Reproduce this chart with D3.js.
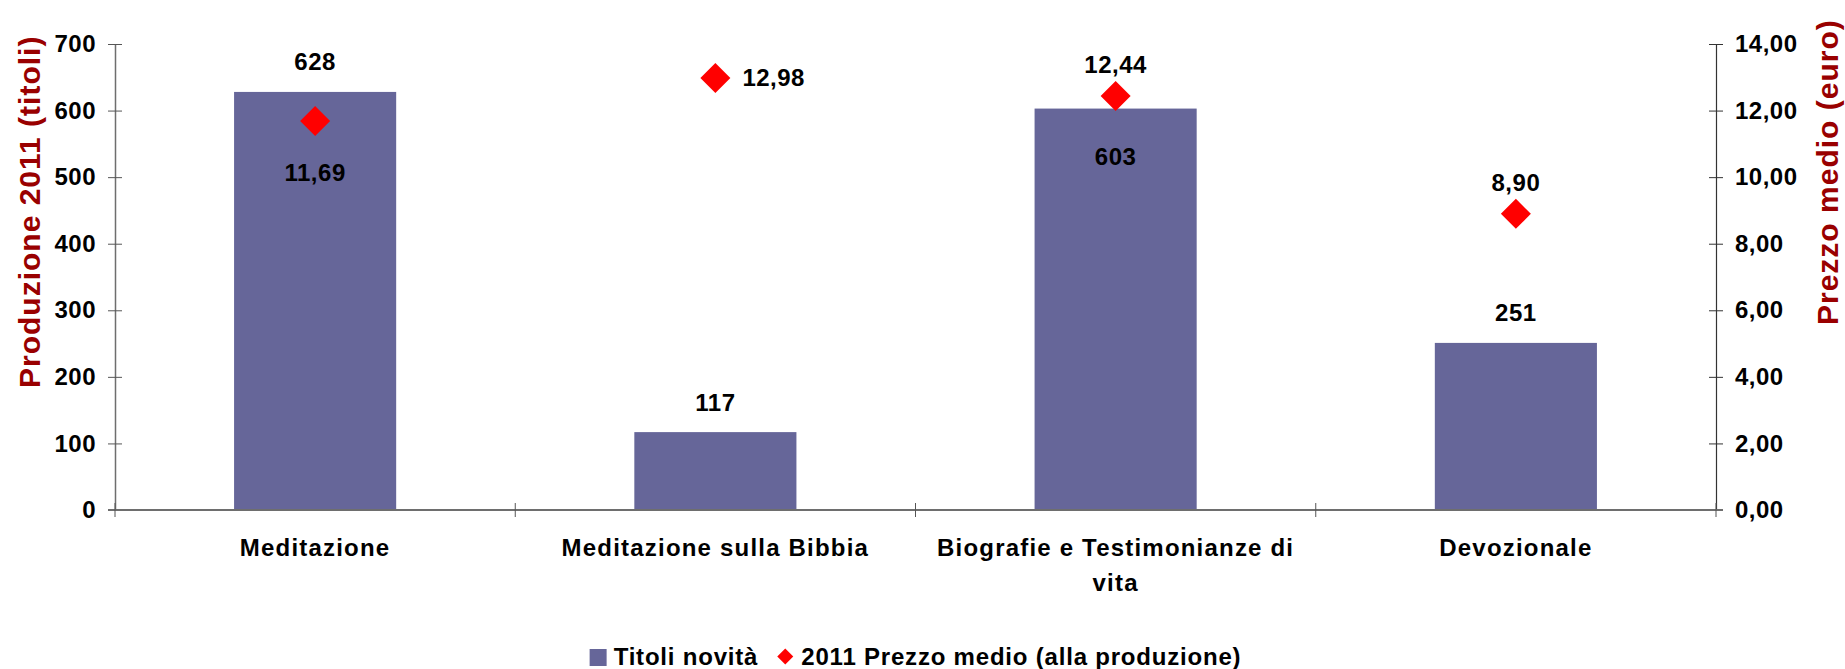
<!DOCTYPE html>
<html>
<head>
<meta charset="utf-8">
<script src="https://cdn.jsdelivr.net/npm/d3@7"></script>
<style>
body { margin: 0; background: #fff; }
svg text { font-family: "Liberation Sans", Arial, Helvetica, sans-serif; font-weight: bold; fill: #000; }
</style>
</head>
<body>
<svg id="chart" width="1845" height="669"></svg>
<script>
// Chart data
var categories = ["Meditazione", "Meditazione sulla Bibbia", "Biografie e Testimonianze di vita", "Devozionale"];
var titoli = [628, 117, 603, 251];
var prezzi = [11.69, 12.98, 12.44, 8.90];
var leftTicks = [0, 100, 200, 300, 400, 500, 600, 700];
var rightTicks = [0, 2, 4, 6, 8, 10, 12, 14];
var seriesNames = ["Titoli novità", "2011 Prezzo medio (alla produzione)"];
var axisTitles = ["Produzione 2011 (titoli)", "Prezzo medio (euro)"];
// where each data label sits relative to its mark
var titoliLabelPos = ["above", "above", "inside", "above"];
var prezziLabelPos = ["below", "right", "above", "above"];

var barColor = "#666699",
    pointColor = "#ff0000",
    titleColor = "#990000";

// italian number format
var it = d3.formatLocale({ decimal: ",", thousands: ".", grouping: [3], currency: ["€", ""] });
var fmt2 = it.format(".2f");

var svg = d3.select("#chart");

var x = d3.scaleBand()
    .domain(categories)
    .range([115, 1716])
    .padding(0);

var yL = d3.scaleLinear().domain([0, 700]).range([510, 44]);
var yR = d3.scaleLinear().domain([0, 14]).range([510, 44]);

var barW = x.bandwidth() * 0.405;

// bars
svg.selectAll(".bar")
    .data(titoli)
    .enter().append("rect")
    .attr("class", "bar")
    .attr("x", (d, i) => x(categories[i]) + x.bandwidth() / 2 - barW / 2)
    .attr("y", d => yL(d))
    .attr("width", barW)
    .attr("height", d => yL(0) - yL(d))
    .style("fill", barColor);

// left axis
var gL = svg.append("g")
    .attr("transform", "translate(115,0)")
    .call(d3.axisLeft(yL).tickValues(leftTicks).tickSize(0).tickPadding(19).tickFormat(d3.format("d")));
gL.select(".domain").attr("stroke", "#6e6e6e").attr("stroke-width", 1.5);
gL.selectAll(".tick line").attr("x1", -7).attr("x2", 7).attr("stroke", "#555");
gL.selectAll(".tick text").style("font-size", "24px").style("letter-spacing", "0.5px");

// right axis
var gR = svg.append("g")
    .attr("transform", "translate(1716,0)")
    .call(d3.axisRight(yR).tickValues(rightTicks).tickSize(0).tickPadding(19).tickFormat(fmt2));
gR.select(".domain").attr("stroke", "#333").attr("stroke-width", 1.2);
gR.selectAll(".tick line").attr("x1", -7).attr("x2", 7).attr("stroke", "#333");
gR.selectAll(".tick text").style("font-size", "24px").style("letter-spacing", "0.5px");

// category axis
var edges = categories.map(c => x(c)).concat([x.range()[1]]);
svg.append("line")
    .attr("x1", 108).attr("x2", 1723)
    .attr("y1", yL(0)).attr("y2", yL(0))
    .attr("stroke", "#6e6e6e").attr("stroke-width", 1.8);
svg.selectAll(".xtick")
    .data(edges)
    .enter().append("line")
    .attr("class", "xtick")
    .attr("x1", d => d).attr("x2", d => d)
    .attr("y1", yL(0) - 7).attr("y2", yL(0) + 7)
    .attr("stroke", "#555");

var catLabels = svg.selectAll(".cat")
    .data(categories)
    .enter().append("text")
    .attr("class", "cat")
    .attr("text-anchor", "middle")
    .attr("x", d => x(d) + x.bandwidth() / 2)
    .attr("y", 556)
    .style("font-size", "24px")
    .style("letter-spacing", "1.2px")
    .each(function (d) {
        wrap(d3.select(this), d, x.bandwidth() - 20);
    });

function wrap(text, str, maxW) {
    var words = str.split(" "),
        line = [],
        lineNo = 0,
        cx = text.attr("x"),
        tspan = text.append("tspan").attr("x", cx).attr("dy", 0);
    words.forEach(function (w) {
        line.push(w);
        tspan.text(line.join(" "));
        if (tspan.node().getComputedTextLength() > maxW && line.length > 1) {
            line.pop();
            tspan.text(line.join(" "));
            line = [w];
            lineNo++;
            tspan = text.append("tspan").attr("x", cx).attr("dy", 35).text(w);
        }
    });
}

// price markers (rotated squares)
var diamond = d3.symbol().type(d3.symbolSquare).size(450);
svg.selectAll(".pt")
    .data(prezzi)
    .enter().append("path")
    .attr("class", "pt")
    .attr("d", diamond)
    .attr("transform", (d, i) => "translate(" + (x(categories[i]) + x.bandwidth() / 2) + "," + yR(d) + ") rotate(45)")
    .style("fill", pointColor);

// bar value labels
svg.selectAll(".blab")
    .data(titoli)
    .enter().append("text")
    .attr("class", "blab")
    .attr("text-anchor", "middle")
    .attr("x", (d, i) => x(categories[i]) + x.bandwidth() / 2)
    .attr("y", (d, i) => titoliLabelPos[i] === "inside" ? yL(d) + 56 : yL(d) - 21.5)
    .style("font-size", "24px")
    .style("letter-spacing", "0.5px")
    .text(d => d);

// price value labels
svg.selectAll(".plab")
    .data(prezzi)
    .enter().append("text")
    .attr("class", "plab")
    .attr("text-anchor", (d, i) => prezziLabelPos[i] === "right" ? "start" : "middle")
    .attr("x", (d, i) => x(categories[i]) + x.bandwidth() / 2 + (prezziLabelPos[i] === "right" ? 27 : 0))
    .attr("y", function (d, i) {
        var p = prezziLabelPos[i];
        if (p === "below") return yR(d) + 60;
        if (p === "right") return yR(d) + 8.5;
        return yR(d) - 23;
    })
    .style("font-size", "24px")
    .style("letter-spacing", "0.5px")
    .text(d => fmt2(d));

// axis titles
svg.append("text")
    .attr("transform", "translate(39.5,388) rotate(-90)")
    .attr("text-anchor", "start")
    .style("font-size", "30px")
    .style("letter-spacing", "1px")
    .style("fill", titleColor)
    .text(axisTitles[0]);

svg.append("text")
    .attr("transform", "translate(1838,325) rotate(-90)")
    .attr("text-anchor", "start")
    .style("font-size", "30px")
    .style("letter-spacing", "1px")
    .style("fill", titleColor)
    .text(axisTitles[1]);

// legend
var legend = svg.append("g").attr("class", "legend");
legend.append("rect")
    .attr("x", 0).attr("y", -16)
    .attr("width", 17).attr("height", 17)
    .style("fill", barColor);
var t1 = legend.append("text")
    .attr("x", 24).attr("y", 0)
    .style("font-size", "24px")
    .style("letter-spacing", "0.8px")
    .text(seriesNames[0]);
var w1 = t1.node().getComputedTextLength();
var dx = 24 + w1 + 19;
legend.append("path")
    .attr("d", d3.symbol().type(d3.symbolSquare).size(128))
    .attr("transform", "translate(" + (dx + 8) + ",-8.5) rotate(45)")
    .style("fill", pointColor);
var t2 = legend.append("text")
    .attr("x", dx + 24).attr("y", 0)
    .style("font-size", "24px")
    .style("letter-spacing", "0.8px")
    .text(seriesNames[1]);
var total = dx + 24 + t2.node().getComputedTextLength();
var midX = (x.range()[0] + x.range()[1]) / 2;
legend.attr("transform", "translate(" + (midX - total / 2) + ",665)");
</script>
</body>
</html>
